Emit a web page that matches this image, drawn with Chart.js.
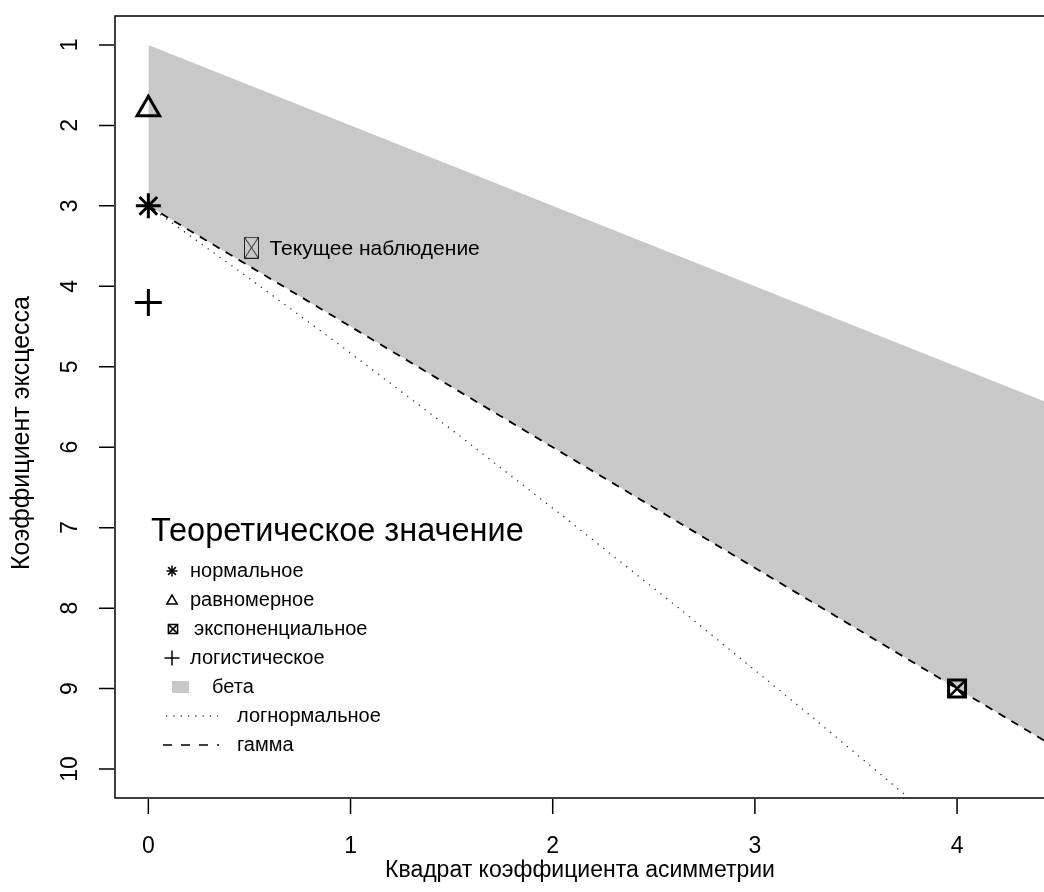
<!DOCTYPE html>
<html>
<head>
<meta charset="utf-8">
<script src="https://cdn.jsdelivr.net/npm/chart.js@4/dist/chart.umd.min.js"></script>
<style>
  html, body { margin: 0; padding: 0; background: #fff; overflow: hidden; }
  canvas { display: block; }
</style>
</head>
<body>
<canvas id="chart" width="1044" height="892"></canvas>
<script>
// tick labels
const xTicks = [0, 1, 2, 3, 4];
const yTicks = [1, 2, 3, 4, 5, 6, 7, 8, 9, 10];

// beta region: upper bound (kurt = skew^2 + 1) and lower bound = gamma line
const betaUpperX = [0, 5];
const betaUpperY = [1, 6];
const gammaX = [0, 5];
const gammaY = [3, 10.5];

// lognormal curve
const lognormX = [0, 0.465, 0.961, 1.488, 2.048, 2.641, 3.267, 3.928];
const lognormY = [3, 3.838, 4.756, 5.759, 6.85, 8.035, 9.32, 10.71];

// theoretical points
const normalPt = [0, 3];
const uniformPt = [0, 1.8];
const exponentialPt = [4, 9];
const logisticPt = [0, 4.2];
const observationPt = [0.51, 3.52];

const legendTitle = 'Теоретическое значение';
const legendLabels = ['нормальное', 'равномерное', 'экспоненциальное', 'логистическое', 'бета', 'логнормальное', 'гамма'];
const observationLabel = 'Текущее наблюдение';
const xTitle = 'Квадрат коэффициента асимметрии';
const yTitle = 'Коэффициент эксцесса';

const FONT = '"Liberation Sans", Arial, Helvetica, sans-serif';
const GREY = '#c8c8c8';

function xy(xs, ys) {
    return xs.map((x, i) => ({x: x, y: ys[i]}));
}

// thin boxed X used for the observation
function boxedX(w, h) {
    const c = document.createElement('canvas');
    c.width = w; c.height = h;
    const g = c.getContext('2d');
    g.strokeStyle = '#222';
    g.lineWidth = 1;
    g.strokeRect(0.5, 0.5, w - 1, h - 1);
    g.beginPath();
    g.moveTo(0.5, 0.5); g.lineTo(w - 0.5, h - 0.5);
    g.moveTo(w - 0.5, 0.5); g.lineTo(0.5, h - 0.5);
    g.stroke();
    return c;
}

function pointSet(pt, style, radius, width, order) {
    return {
        data: [{x: pt[0], y: pt[1]}],
        showLine: false,
        pointStyle: style,
        pointRadius: radius,
        pointBorderWidth: width,
        pointBorderColor: '#000',
        pointBackgroundColor: 'rgba(0,0,0,0)',
        order: order
    };
}

const rAxes = {
    id: 'rAxes',
    afterDraw(chart) {
        const ctx = chart.ctx;
        const a = chart.chartArea;
        const x = chart.scales.x, y = chart.scales.y;
        ctx.save();
        ctx.strokeStyle = '#000';
        ctx.lineWidth = 1.5;
        ctx.beginPath();
        ctx.moveTo(a.right + 5, a.top);
        ctx.lineTo(a.left, a.top);
        ctx.lineTo(a.left, a.bottom);
        ctx.lineTo(a.right + 5, a.bottom);
        ctx.stroke();

        ctx.beginPath();
        xTicks.forEach(v => {
            const px = x.getPixelForValue(v);
            ctx.moveTo(px, a.bottom + 1);
            ctx.lineTo(px, a.bottom + 16);
        });
        yTicks.forEach(v => {
            const py = y.getPixelForValue(v);
            ctx.moveTo(a.left - 1, py);
            ctx.lineTo(a.left - 16, py);
        });
        ctx.stroke();

        ctx.fillStyle = '#000';
        ctx.font = '23px ' + FONT;
        ctx.textAlign = 'center';
        ctx.textBaseline = 'alphabetic';
        xTicks.forEach(v => ctx.fillText(String(v), x.getPixelForValue(v), 853));
        ctx.fillText(xTitle, 580, 877);

        ctx.textBaseline = 'middle';
        yTicks.forEach(v => {
            ctx.save();
            ctx.translate(71, y.getPixelForValue(v));
            ctx.rotate(-Math.PI / 2);
            ctx.fillText(String(v), 0, 0);
            ctx.restore();
        });
        ctx.save();
        ctx.font = '25px ' + FONT;
        ctx.translate(22, 433);
        ctx.rotate(-Math.PI / 2);
        ctx.fillText(yTitle, 0, 0);
        ctx.restore();

        // observation label
        ctx.textAlign = 'left';
        ctx.font = '21px ' + FONT;
        ctx.fillText(observationLabel, x.getPixelForValue(observationPt[0]) + 18, y.getPixelForValue(observationPt[1]) + 1);

        // legend
        ctx.font = '32.5px ' + FONT;
        ctx.textBaseline = 'alphabetic';
        ctx.fillText(legendTitle, 151, 541);

        ctx.font = '20px ' + FONT;
        ctx.textBaseline = 'middle';
        const rows = [571, 600, 629, 658, 687, 716, 745];
        const textX = [190, 190, 194, 190, 212, 237, 237];
        legendLabels.forEach((t, i) => ctx.fillText(t, textX[i], rows[i]));

        const dp = Chart.helpers.drawPoint;
        ctx.fillStyle = 'rgba(0,0,0,0)';
        ctx.strokeStyle = '#000';
        ctx.lineWidth = 1.5;
        dp(ctx, {pointStyle: 'star', radius: 5.5, borderWidth: 1.5, rotation: 0}, 172, rows[0]);
        dp(ctx, {pointStyle: 'triangle', radius: 6, borderWidth: 1.5, rotation: 0}, 172, rows[1] + 1);
        dp(ctx, {pointStyle: 'rect', radius: 6.5, borderWidth: 1.5, rotation: 0}, 173, rows[2]);
        dp(ctx, {pointStyle: 'crossRot', radius: 6.5, borderWidth: 1.2, rotation: 0}, 173, rows[2]);
        dp(ctx, {pointStyle: 'cross', radius: 7.5, borderWidth: 1.5, rotation: 0}, 172, rows[3]);

        ctx.fillStyle = GREY;
        ctx.fillRect(172, rows[4] - 6, 17, 12);

        ctx.strokeStyle = '#444';
        ctx.lineWidth = 1.3;
        ctx.setLineDash([1.3, 6]);
        ctx.beginPath();
        ctx.moveTo(166, rows[5]); ctx.lineTo(218, rows[5]);
        ctx.stroke();

        ctx.strokeStyle = '#000';
        ctx.lineWidth = 1.5;
        ctx.setLineDash([9, 9]);
        ctx.beginPath();
        ctx.moveTo(163, rows[6]); ctx.lineTo(219, rows[6]);
        ctx.stroke();
        ctx.restore();
    }
};

new Chart(document.getElementById('chart'), {
    type: 'line',
    data: {
        datasets: [
            pointSet(normalPt, 'star', 12.5, 3, 0),
            pointSet(uniformPt, 'triangle', 13, 3, 0),
            pointSet(exponentialPt, 'rect', 12, 3, 0),
            pointSet(exponentialPt, 'crossRot', 12, 2.5, 0),
            pointSet(logisticPt, 'cross', 13.5, 3, 0),
            pointSet(observationPt, boxedX(15, 22), 10, 1, 0),
            {
                data: xy(lognormX, lognormY),
                borderColor: '#333',
                borderWidth: 1.3,
                borderDash: [1.3, 6],
                pointRadius: 0,
                fill: false,
                order: 5
            },
            {
                data: xy(gammaX, gammaY),
                borderColor: '#000',
                borderWidth: 1.8,
                borderDash: [8, 7],
                pointRadius: 0,
                fill: false,
                order: 4
            },
            {
                data: xy(betaUpperX, betaUpperY),
                borderColor: 'rgba(0,0,0,0)',
                backgroundColor: GREY,
                pointRadius: 0,
                fill: 7,
                order: 10
            }
        ]
    },
    options: {
        responsive: false,
        animation: false,
        events: [],
        devicePixelRatio: 1,
        layout: { autoPadding: false, padding: { left: 115, top: 16, right: 0, bottom: 94 } },
        plugins: { legend: { display: false }, tooltip: { enabled: false } },
        scales: {
            x: { type: 'linear', min: -0.165, max: 4.43, display: false },
            y: { type: 'linear', min: 0.64, max: 10.36, reverse: true, display: false }
        }
    },
    plugins: [rAxes]
});
</script>
</body>
</html>
